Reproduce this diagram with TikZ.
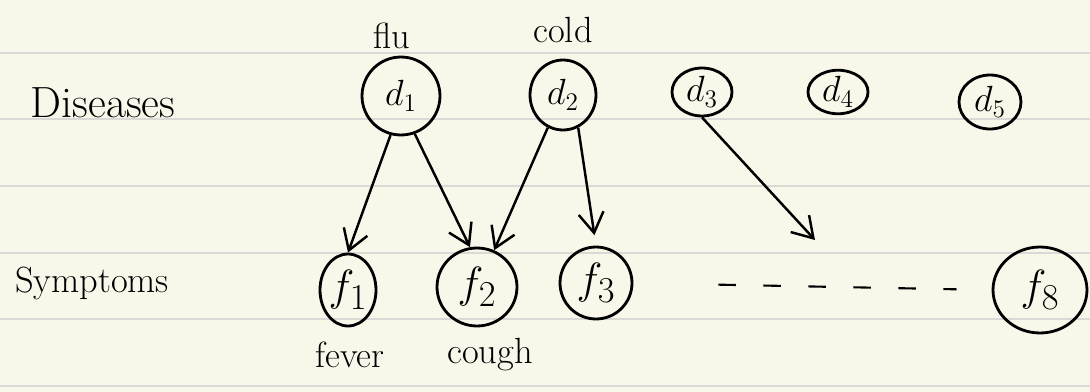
\documentclass[tikz,border=0pt]{standalone}
\usepackage{amsmath,amssymb}
\usepackage{tikz}
\usetikzlibrary{positioning,shapes.geometric,arrows.meta}

\definecolor{paper}{HTML}{F8F7E9}
\definecolor{ruleline}{HTML}{D9D9D5}

\begin{document}
\begin{tikzpicture}[x=0.02cm, y=-0.02cm,
    disease/.style={ellipse, draw=black, line width=1.6pt, inner sep=0pt, font=\huge},
    symptom/.style={ellipse, draw=black, line width=1.6pt, inner sep=0pt, font=\Huge},
    word/.style={font=\huge},
    edge/.style={draw=black, line width=1.4pt, -{Straight Barb[length=4mm, width=5mm]}},
    ruling/.style={draw=ruleline, line width=1.2pt}
  ]
    % Papier ligné
    \fill[paper] (0,0) rectangle (1090,392);
    \useasboundingbox (0,0) rectangle (1090,392);
    \foreach \y in {53,119,186,253,319,386}
      \draw[ruling] (0,\y) -- (1090,\y);

    % Titres
    \node[word, font=\Huge] (tdis) at (103,103) {Diseases};
    \node[word] (tsym) at (92,283) {Symptoms};

    % Maladies (haut)
    \node[disease, minimum width=1.56cm, minimum height=1.56cm] (d1) at (401,96) {$d_1$};
    \node[disease, minimum width=1.32cm, minimum height=1.40cm] (d2) at (563,95) {$d_2$};
    \node[disease, minimum width=1.20cm, minimum height=0.96cm] (d3) at (702,92) {$d_3$};
    \node[disease, minimum width=1.20cm, minimum height=0.84cm] (d4) at (838,92) {$d_4$};
    \node[disease, minimum width=1.24cm, minimum height=1.08cm] (d5) at (990,102) {$d_5$};
    \node[word] (flu) at (392,36) {flu};
    \node[word] (cold) at (563,30) {cold};

    % Symptomes (bas)
    \node[symptom, minimum width=1.12cm, minimum height=1.44cm] (f1) at (348,290) {$f_1$};
    \node[symptom, minimum width=1.60cm, minimum height=1.56cm] (f2) at (477,287) {$f_2$};
    \node[symptom, minimum width=1.44cm, minimum height=1.44cm] (f3) at (596,283) {$f_3$};
    \node[symptom, minimum width=1.88cm, minimum height=1.72cm] (f8) at (1040,290) {$f_8$};
    \node[word] (fever) at (350,355) {fever};
    \node[word] (cough) at (490,355) {cough};

    % Liens maladie -> symptome
    \coordinate (d3end) at (815,240);
    \draw[edge] (d1.255) -- (f1.north);
    \draw[edge] (d1.290) -- (f2.100);
    \draw[edge] (d2.245) -- (f2.65);
    \draw[edge, shorten >=6pt] (d2.295) -- (f3.north);
    \draw[edge] (d3.south) -- (d3end);
    \draw[line width=1.2pt, dash pattern=on 0.35cm off 0.55cm,
          shorten <=1.7cm, shorten >=0.7cm] (f3.east) -- (f8.west);
  \end{tikzpicture}
\end{document}
